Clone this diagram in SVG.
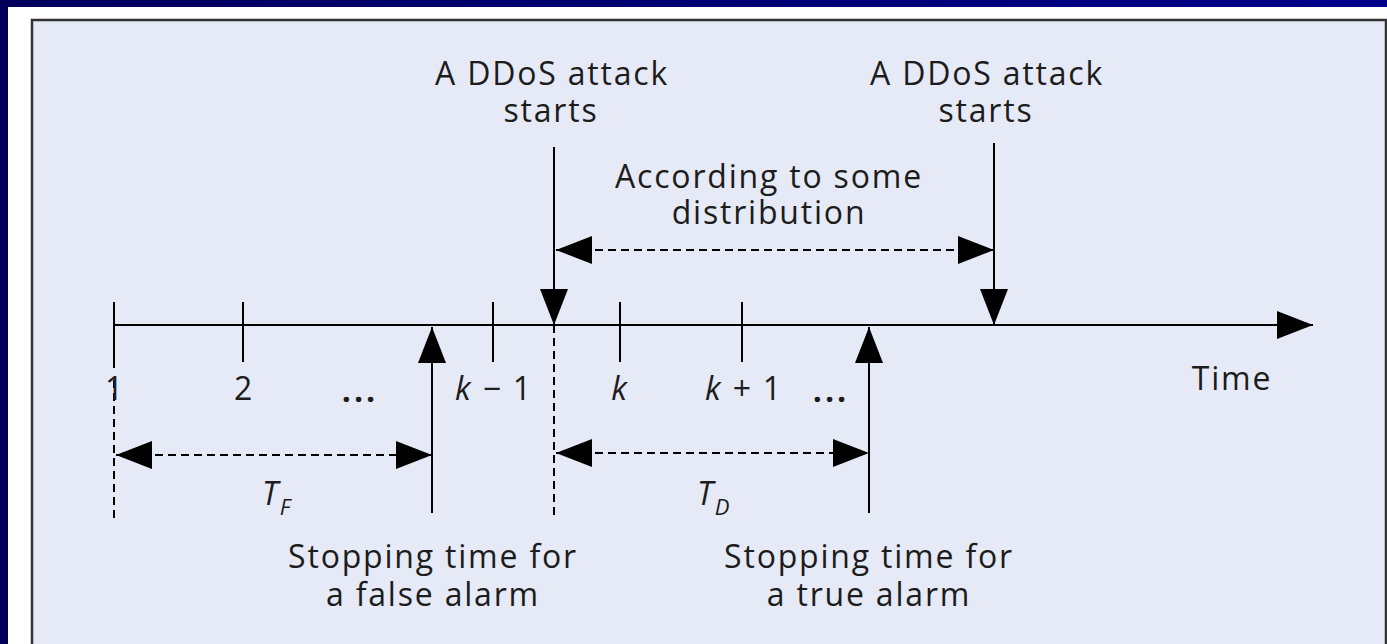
<svg xmlns="http://www.w3.org/2000/svg" width="1387" height="644" viewBox="0 0 1387 644">
<style>
.t{font-family:"Open Sans","Liberation Sans",sans-serif;font-size:32px;fill:#1c1c1c;letter-spacing:1.8px}
.m{text-anchor:middle}
.i{font-style:italic}
.s{font-size:22px;font-style:italic}
.ln{stroke:#000;stroke-width:2;fill:none}
.dl{stroke:#000;stroke-width:2;fill:none;stroke-dasharray:8 5}
.dots{font-weight:bold;letter-spacing:3px}
</style>
<defs>
<linearGradient id="bg" x1="0" y1="0" x2="1" y2="0">
<stop offset="0" stop-color="#00005C"/>
<stop offset="1" stop-color="#00008A"/>
</linearGradient>
<marker id="ah" markerUnits="userSpaceOnUse" markerWidth="36" markerHeight="28" refX="36" refY="14" orient="auto-start-reverse" viewBox="0 0 36 28">
<path d="M0,0 L36,14 L0,28 Z" fill="#000"/>
</marker>
</defs>
<rect x="0" y="0" width="1387" height="644" fill="url(#bg)"/>
<rect x="8" y="7" width="1379" height="637" fill="#ffffff"/>
<rect id="panel" x="32" y="20" width="1354" height="640" fill="#E6E9F6" stroke="#333" stroke-width="2.5"/>

<g id="connectors">
<line id="axis" class="ln" x1="114" y1="325" x2="1313" y2="325" marker-end="url(#ah)"/>
<line class="ln" x1="114" y1="302" x2="114" y2="368"/>
<line class="dl" x1="114" y1="380" x2="114" y2="520"/>
<line class="ln" x1="243" y1="302" x2="243" y2="362"/>
<line class="ln" x1="493" y1="302" x2="493" y2="362"/>
<line class="ln" x1="620" y1="302" x2="620" y2="362"/>
<line class="ln" x1="742" y1="302" x2="742" y2="362"/>
<line class="ln" x1="554" y1="147" x2="554" y2="325" marker-end="url(#ah)"/>
<line class="ln" x1="994" y1="143" x2="994" y2="325" marker-end="url(#ah)"/>
<line class="dl" x1="554" y1="325" x2="554" y2="518"/>
<line class="ln" x1="432" y1="513" x2="432" y2="327" marker-end="url(#ah)"/>
<line class="ln" x1="869" y1="513" x2="869" y2="327" marker-end="url(#ah)"/>
<line class="dl" x1="116" y1="455" x2="432" y2="455" marker-start="url(#ah)" marker-end="url(#ah)"/>
<line class="dl" x1="556" y1="453" x2="869" y2="453" marker-start="url(#ah)" marker-end="url(#ah)"/>
<line class="dl" x1="556" y1="250" x2="994" y2="250" marker-start="url(#ah)" marker-end="url(#ah)"/>
</g>

<g id="attack1">
<text class="t m" x="552" y="85">A DDoS attack</text>
<text class="t m" x="551" y="122">starts</text>
</g>
<g id="attack2">
<text class="t m" x="987" y="85">A DDoS attack</text>
<text class="t m" x="986" y="122">starts</text>
</g>
<g id="distribution">
<text class="t m" x="769" y="188">According to some</text>
<text class="t m" x="769" y="224">distribution</text>
</g>
<g id="labels">
<text class="t m" x="115" y="400">1</text>
<text class="t m" x="244" y="400">2</text>
<text class="t m dots" x="360" y="402">...</text>
<text class="t m" x="494" y="400"><tspan class="i">k</tspan> − 1</text>
<text class="t m i" x="620" y="400">k</text>
<text class="t m" x="744" y="400"><tspan class="i">k</tspan> + 1</text>
<text class="t m dots" x="831" y="402">...</text>
<text class="t m" x="1232" y="390">Time</text>
</g>
<g id="tf">
<text class="t i" x="262" y="505">T<tspan class="s" dy="10">F</tspan></text>
</g>
<g id="td">
<text class="t i" x="697" y="505">T<tspan class="s" dy="10">D</tspan></text>
</g>
<g id="false-alarm">
<text class="t m" x="433" y="568">Stopping time for</text>
<text class="t m" x="433" y="606">a false alarm</text>
</g>
<g id="true-alarm">
<text class="t m" x="869" y="568">Stopping time for</text>
<text class="t m" x="869" y="606">a true alarm</text>
</g>
</svg>
